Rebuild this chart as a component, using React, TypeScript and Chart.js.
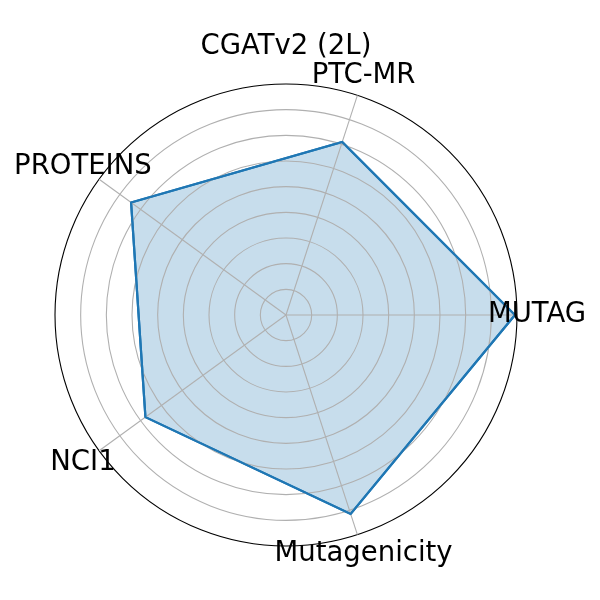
import React, { useEffect, useRef } from "react";
import { Chart, registerables } from "chart.js";

Chart.register(...registerables);

const title = "CGATv2 (2L)";
// Clockwise order starting at the right (matplotlib order reversed after MUTAG)
const categories = ["MUTAG", "Mutagenicity", "NCI1", "PROTEINS", "PTC-MR"];
const values = [8.92, 8.15, 6.77, 7.46, 7.09];
const gridTicks = [0, 1, 2, 3, 4, 5, 6, 7, 8, 9];
const rMax = 9;

const FONT = '27.5px "DejaVu Sans"';

const overlayPlugin = {
  id: "mplOverlay",
  afterDraw(chart: any) {
    const scale = chart.scales.r;
    const ctx = chart.ctx;
    const meta = chart.getDatasetMeta(0);
    if (meta && meta.dataset) {
      meta.dataset.draw(ctx, chart.chartArea);
    }
    ctx.save();
    ctx.font = FONT;
    ctx.fillStyle = "#000000";
    ctx.textAlign = "center";
    ctx.textBaseline = "alphabetic";
    categories.forEach((lab, i) => {
      const p = scale.getPointPosition(i, scale.drawingArea + 20);
      ctx.fillText(lab, p.x, p.y + 7);
    });
    ctx.fillText(title, scale.xCenter, scale.yCenter - 261);
    ctx.restore();
  },
};

export default function App() {
  const ref = useRef<HTMLCanvasElement | null>(null);

  useEffect(() => {
    if (!ref.current) return;
    const chart = new Chart(ref.current, {
      type: "radar",
      data: {
        labels: categories,
        datasets: [
          {
            data: values,
            borderColor: "#1f77b4",
            backgroundColor: "rgba(31,119,180,0.25)",
            borderWidth: 2.2,
            fill: true,
            pointRadius: 0,
            pointHoverRadius: 0,
            tension: 0,
          },
        ],
      },
      options: {
        responsive: false,
        animation: false,
        layout: { padding: { left: 55, right: 83, top: 84, bottom: 54 } },
        plugins: {
          legend: { display: false },
          tooltip: { enabled: false },
          title: { display: false },
        },
        scales: {
          r: {
            min: 0,
            max: rMax,
            startAngle: 90,
            afterBuildTicks: (scale: any) => {
              scale.ticks = gridTicks.map((v) => ({ value: v }));
            },
            ticks: { display: false, stepSize: 1 },
            pointLabels: { display: false },
            grid: {
              z: 1,
              circular: true,
              color: (c: any) =>
                c.tick && c.tick.value === rMax ? "#000000" : "#b0b0b0",
              lineWidth: 1.1,
            },
            angleLines: { color: "#b0b0b0", lineWidth: 1.1 },
          },
        },
      },
      plugins: [overlayPlugin],
    });
    return () => chart.destroy();
  }, []);

  return (
    <div
      style={{ position: "absolute", left: 0, top: 0, width: 600, height: 600, background: "#ffffff" }}
    >
      <canvas ref={ref} width={600} height={600} />
    </div>
  );
}
